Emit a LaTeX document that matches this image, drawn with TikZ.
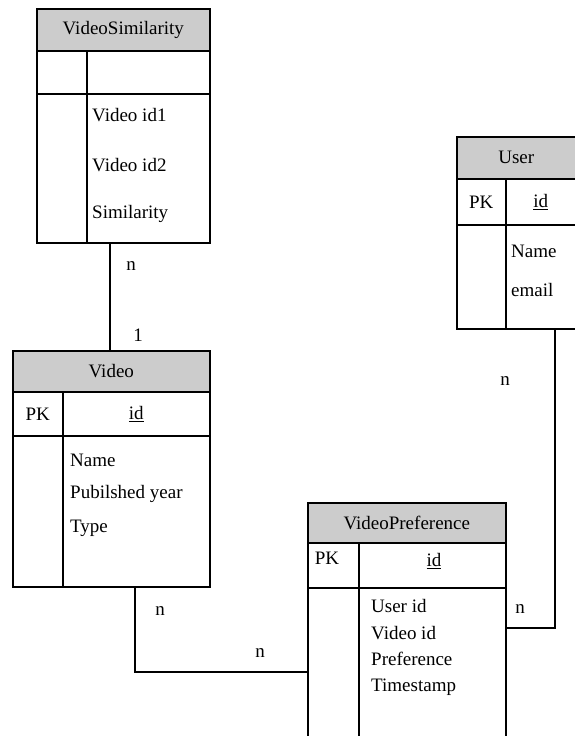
\documentclass[tikz,border=0pt]{standalone}
\usepackage{fontspec}
\setmainfont{Liberation Serif}
\usetikzlibrary{positioning}

\tikzset{
  cell/.style={draw, line width=1.6pt, inner sep=0pt, anchor=north west},
  head/.style={cell, fill=gray!40},
  field/.style={anchor=west, inner sep=0pt},
  card/.style={inner sep=0pt},
}

\begin{document}
\begin{tikzpicture}[x=1pt, y=-1pt, font=\fontsize{19}{22}\selectfont]
\useasboundingbox (0,0) rectangle (574,736);

% VideoSimilarity
\node[head, minimum width=173pt, minimum height=42pt] (simHead) at (36,8) {VideoSimilarity};
\node[cell, minimum width=50pt, minimum height=43pt] (simKeyL) at (36,50) {};
\node[cell, minimum width=123pt, minimum height=43pt] (simKeyR) at (86,50) {};
\node[cell, minimum width=50pt, minimum height=149pt] (simBodyL) at (36,93) {};
\node[cell, minimum width=123pt, minimum height=149pt] (simBodyR) at (86,93) {};
\foreach \t/\y [count=\i] in {Video id1/115, Video id2/165, Similarity/214}
  \node[field] (simF\i) at (92,\y) {\t};

% Video
\node[head, minimum width=197pt, minimum height=41pt] (vidHead) at (12,350) {Video};
\node[cell, minimum width=50pt, minimum height=44pt] (vidKeyL) at (12,391) {PK};
\node[cell, minimum width=147pt, minimum height=44pt] (vidKeyR) at (62,391) {\underline{id}};
\node[cell, minimum width=50pt, minimum height=151pt] (vidBodyL) at (12,435) {};
\node[cell, minimum width=147pt, minimum height=151pt] (vidBodyR) at (62,435) {};
\foreach \t/\y [count=\i] in {Name/460, Pubilshed year/494, Type/528}
  \node[field] (vidF\i) at (70,\y) {\t};

% User
\node[head, minimum width=119pt, minimum height=42pt] (userHead) at (456,136) {User};
\node[cell, minimum width=49pt, minimum height=46pt] (userKeyL) at (456,178) {PK};
\node[cell, minimum width=70pt, minimum height=46pt] (userKeyR) at (505,178) {\underline{id}};
\node[cell, minimum width=49pt, minimum height=104pt] (userBodyL) at (456,224) {};
\node[cell, minimum width=70pt, minimum height=104pt] (userBodyR) at (505,224) {};
\foreach \t/\y [count=\i] in {Name/251, email/290}
  \node[field] (userF\i) at (511,\y) {\t};

% VideoPreference
\node[head, minimum width=198pt, minimum height=40pt] (prefHead) at (307,502) {VideoPreference};
\node[cell, minimum width=51pt, minimum height=45pt] (prefKeyL) at (307,542) {};
\node[cell, minimum width=147pt, minimum height=45pt] (prefKeyR) at (358,542) {};
\node (prefPK) at (327,558) {PK};
\node (prefId) at (434,561) {\underline{id}};
\node[cell, minimum width=51pt, minimum height=170pt] (prefBodyL) at (307,587) {};
\node[cell, minimum width=147pt, minimum height=170pt] (prefBodyR) at (358,587) {};
\foreach \t/\y [count=\i] in {User id/606, Video id/633, Preference/659, Timestamp/687}
  \node[field] (prefF\i) at (371,\y) {\t};

% connectors
\coordinate (sv) at (110,300);
\draw[line width=1.6pt] (sv |- simBodyR.south) -- (sv |- vidHead.north);
\coordinate (vp) at (135,672);
\draw[line width=1.6pt] (vp |- vidBodyR.south) -- (vp) -- (vp -| prefBodyL.west);
\coordinate (pu) at (555,628);
\draw[line width=1.6pt] (pu -| prefBodyR.east) -- (pu) -- (pu |- userBodyR.south);

% cardinalities
\node[card] (cSim) at (131,266) {n};
\node[card] (cVid) at (138,335) {1};
\node[card] (cVidP) at (160,611) {n};
\node[card] (cPrefV) at (260,653) {n};
\node[card] (cPrefU) at (520,609) {n};
\node[card] (cUser) at (505,381) {n};
\end{tikzpicture}
\end{document}
